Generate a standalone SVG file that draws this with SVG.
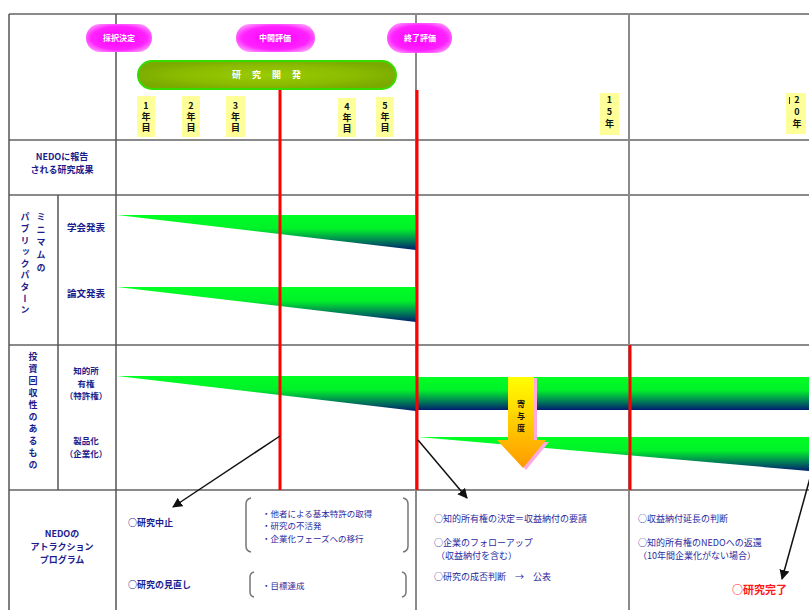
<svg xmlns="http://www.w3.org/2000/svg" width="809" height="610" viewBox="0 0 809 610">
<defs>
  <linearGradient id="wedge" x1="0" y1="0" x2="0" y2="1">
    <stop offset="0" stop-color="#00ff22"/>
    <stop offset="0.4" stop-color="#00f02a"/>
    <stop offset="0.75" stop-color="#007a58"/>
    <stop offset="1" stop-color="#001e6e"/>
  </linearGradient>
  <linearGradient id="arr" x1="0" y1="0" x2="0" y2="1">
    <stop offset="0" stop-color="#ffff00"/>
    <stop offset="1" stop-color="#ff9900"/>
  </linearGradient>
  <radialGradient id="pill" cx="0.5" cy="0.5" r="0.6">
    <stop offset="0" stop-color="#ff00ff"/>
    <stop offset="0.7" stop-color="#ff22ff"/>
    <stop offset="1" stop-color="#ff99ff"/>
  </radialGradient>
  <radialGradient id="bar" cx="0.5" cy="0.5" r="0.55">
    <stop offset="0" stop-color="#99cc00"/>
    <stop offset="0.6" stop-color="#8cbc00"/>
    <stop offset="1" stop-color="#7aaa00"/>
  </radialGradient>
  <marker id="ah" markerWidth="10" markerHeight="10" refX="9" refY="5" orient="auto" markerUnits="userSpaceOnUse">
    <path d="M0,0 L10,5 L0,10 z" fill="#111"/>
  </marker>
</defs>
<style>
  .grid{stroke:#8a8a8a;stroke-width:2;fill:none}
  .dark{stroke:#555;stroke-width:1.5;fill:none}
  .red{stroke:#ff0000;stroke-width:3;fill:none}
  .lbl{font-family:"Noto Sans CJK JP","Noto Sans",sans-serif;font-weight:bold;fill:#1c1c8c;font-size:9px}
  .sm{font-size:8.5px}
  .mid{text-anchor:middle}
  .vert{writing-mode:vertical-rl;text-anchor:start}
  .up{text-orientation:upright}
  .txt{font-family:"Noto Sans CJK JP","Noto Sans",sans-serif;fill:#2a2aa0;font-size:8.5px}
  .yr{font-family:"Noto Sans CJK JP","Noto Sans",sans-serif;font-weight:bold;fill:#111;font-size:9px;writing-mode:vertical-rl;text-orientation:upright}
  .ybox{fill:#ffff99}
  .pilltxt{font-family:"Noto Sans CJK JP","Noto Sans",sans-serif;font-weight:bold;fill:#fff;font-size:8px;text-anchor:middle}
  .brk{stroke:#777;stroke-width:1.5;fill:none}
  .conn{stroke:#111;stroke-width:1.5;fill:none}
</style>
<rect width="809" height="610" fill="#fff"/>

<g id="grid">
  <line class="grid" x1="9" y1="14" x2="809" y2="14"/>
  <line class="grid" x1="9" y1="140" x2="809" y2="140"/>
  <line class="grid" x1="9" y1="195" x2="809" y2="195"/>
  <line class="grid" x1="9" y1="345" x2="809" y2="345"/>
  <line class="grid" x1="9" y1="490" x2="809" y2="490"/>
  <line class="dark" x1="9" y1="14" x2="9" y2="610"/>
  <line class="dark" x1="58" y1="195" x2="58" y2="490"/>
  <line class="dark" x1="116" y1="14" x2="116" y2="610"/>
  <line class="grid" x1="416" y1="14" x2="416" y2="610"/>
  <line class="grid" x1="629" y1="14" x2="629" y2="610"/>
</g>

<g id="wedges">
  <polygon points="117,215 416,215 416,250" fill="url(#wedge)"/>
  <polygon points="117,287 416,287 416,322" fill="url(#wedge)"/>
  <polygon points="117,376 416,376 416,411" fill="url(#wedge)"/>
  <rect x="418" y="377" width="391" height="33" fill="url(#wedge)"/>
  <polygon points="418,437 809,437 809,471" fill="url(#wedge)"/>
</g>

<g id="redlines">
  <line class="red" x1="280" y1="90" x2="280" y2="490"/>
  <line class="red" x1="417" y1="90" x2="417" y2="490"/>
  <line class="red" x1="630" y1="345" x2="630" y2="490"/>
</g>

<g id="pill-saitaku">
  <rect x="86" y="24" width="66" height="28" rx="14" fill="url(#pill)"/>
  <text class="pilltxt" x="119" y="41">採択決定</text>
</g>
<g id="pill-chukan">
  <rect x="236" y="24" width="79" height="28" rx="14" fill="url(#pill)"/>
  <text class="pilltxt" x="275" y="41">中間評価</text>
</g>
<g id="pill-shuryo">
  <rect x="387" y="23" width="65" height="30" rx="15" fill="url(#pill)"/>
  <text class="pilltxt" x="420" y="41">終了評価</text>
</g>

<g id="bar-kenkyu">
  <rect x="138" y="61" width="258" height="28" rx="14" fill="url(#bar)" stroke="#33dd00" stroke-width="2"/>
  <text class="pilltxt" x="272" y="78" style="font-size:9px;letter-spacing:11px">研究開発</text>
</g>

<g id="years">
  <rect class="ybox" x="137" y="96" width="18" height="41"/>
  <text class="yr" x="146" y="101.5" style="letter-spacing:2px">1年目</text>
  <rect class="ybox" x="182" y="96" width="18" height="41"/>
  <text class="yr" x="191" y="101.5" style="letter-spacing:2px">2年目</text>
  <rect class="ybox" x="226" y="96" width="19" height="41"/>
  <text class="yr" x="235.5" y="101.5" style="letter-spacing:2px">3年目</text>
  <rect class="ybox" x="338" y="98" width="18" height="39"/>
  <text class="yr" x="347" y="102.5" style="letter-spacing:2px">4年目</text>
  <rect class="ybox" x="376" y="97" width="18" height="40"/>
  <text class="yr" x="385" y="101.5" style="letter-spacing:2px">5年目</text>
  <rect class="ybox" x="600" y="93" width="19" height="42"/>
  <text class="yr" x="609.5" y="95" style="letter-spacing:3px">15年</text>
  <rect class="ybox" x="786" y="93" width="20" height="41"/>
  <line x1="789.5" y1="97" x2="789.5" y2="104" stroke="#333" stroke-width="1"/>
  <text class="yr" x="797" y="95" style="letter-spacing:3px">20年</text>
</g>

<g id="label-nedo-report">
  <text class="lbl mid"><tspan x="62" y="160">NEDOに報告</tspan><tspan x="62" y="173">される研究成果</tspan></text>
</g>
<g id="label-public">
  <text class="lbl vert" x="41" y="212" style="letter-spacing:3.7px">ミニマムの</text>
  <text class="lbl vert" x="25" y="212.5" style="letter-spacing:2.6px">パブリックパターン</text>
</g>
<g id="label-gakkai"><text class="lbl mid" x="86" y="231" style="font-size:9.5px">学会発表</text></g>
<g id="label-ronbun"><text class="lbl mid" x="86" y="297" style="font-size:9.5px">論文発表</text></g>
<g id="label-toshi">
  <text class="lbl vert" x="33" y="352.5" style="letter-spacing:3px">投資回収性のあるもの</text>
</g>
<g id="label-chiteki">
  <text class="lbl sm mid"><tspan x="86" y="374">知的所</tspan><tspan x="86" y="386.5">有権</tspan><tspan x="86" y="399">（特許権）</tspan></text>
</g>
<g id="label-seihin">
  <text class="lbl sm mid"><tspan x="86" y="444">製品化</tspan><tspan x="86" y="456.5">（企業化）</tspan></text>
</g>

<g id="kiyodo-arrow">
  <path d="M511,378 L537,378 L537,442 L549,442 L526,470 L500,442 L511,442 Z" fill="#ffaadd"/>
  <path d="M508,377 L534,377 L534,440 L546,440 L523,468 L497,440 L508,440 Z" fill="url(#arr)"/>
  <text class="yr" x="521" y="400" style="font-size:8px;letter-spacing:4px">寄与度</text>
</g>

<g id="connectors">
  <line class="conn" x1="280" y1="436" x2="173" y2="507" marker-end="url(#ah)"/>
  <line class="conn" x1="418" y1="440" x2="467" y2="498" marker-end="url(#ah)"/>
  <line class="conn" x1="810" y1="478" x2="782" y2="579" marker-end="url(#ah)"/>
</g>

<g id="label-attraction">
  <text class="lbl mid"><tspan x="62" y="537">NEDOの</tspan><tspan x="62" y="550">アトラクション</tspan><tspan x="62" y="563">プログラム</tspan></text>
</g>
<g id="stop">
  <text class="lbl" x="128" y="526">○研究中止</text>
  <path class="brk" d="M251,498 Q246,499 246,504 L246,546 Q246,551 251,552"/>
  <path class="brk" d="M403,498 Q408,499 408,504 L408,546 Q408,551 403,552"/>
  <text class="txt"><tspan x="262" y="516.5">・他者による基本特許の取得</tspan><tspan x="262" y="529">・研究の不活発</tspan><tspan x="262" y="541.5">・企業化フェーズへの移行</tspan></text>
</g>
<g id="review">
  <text class="lbl" x="128" y="588">○研究の見直し</text>
  <path class="brk" d="M254,572 Q250,573 250,577 L250,592 Q250,596 254,597"/>
  <path class="brk" d="M402,572 Q406,573 406,577 L406,592 Q406,596 402,597"/>
  <text class="txt" x="262" y="589">・目標達成</text>
</g>
<g id="middle-cell">
  <text class="txt" style="font-size:9px"><tspan x="434" y="522">○知的所有権の決定＝収益納付の要請</tspan></text>
  <text class="txt" style="font-size:9px"><tspan x="434" y="545.5">○企業のフォローアップ</tspan><tspan x="436" y="558.5">（収益納付を含む）</tspan></text>
  <text class="txt" style="font-size:9px" x="434" y="580">○研究の成否判断　→　公表</text>
</g>
<g id="right-cell">
  <text class="txt" style="font-size:9px" x="638" y="522">○収益納付延長の判断</text>
  <text class="txt" style="font-size:9px"><tspan x="638" y="545.5">○知的所有権のNEDOへの返還</tspan><tspan x="638" y="558.5">（10年間企業化がない場合）</tspan></text>
  <text x="732" y="594" style="font-family:'Noto Sans CJK JP',sans-serif;font-weight:bold;fill:#ff1a1a;font-size:11px">○研究完了</text>
</g>
</svg>
